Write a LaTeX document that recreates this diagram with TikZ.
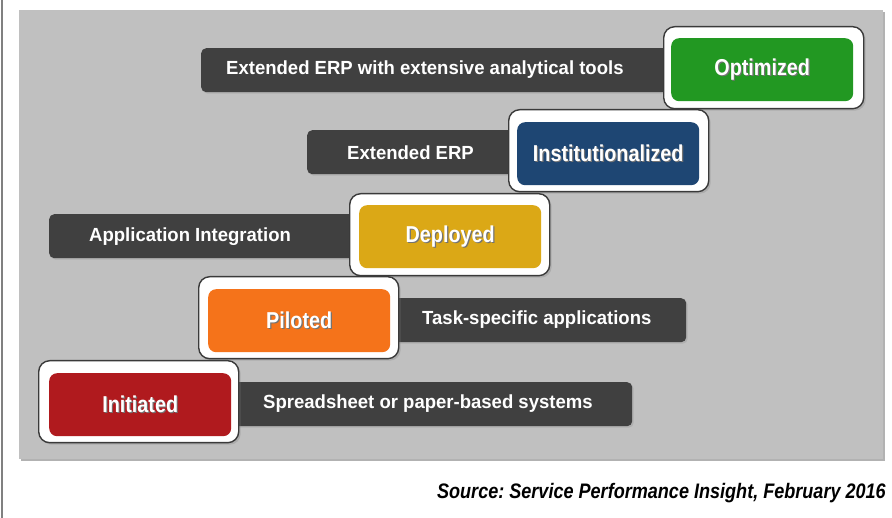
\documentclass[tikz,border=0pt]{standalone}
\usepackage{fontspec}
\setmainfont{Liberation Sans}
\frenchspacing
\newfontfamily\barfont[FakeStretch=0.975]{Liberation Sans}
\newfontfamily\badgefont[FakeStretch=0.86]{Liberation Sans}
\newfontfamily\srcfont[FakeStretch=0.86]{Liberation Sans}
\usetikzlibrary{positioning,shadows}
\definecolor{PanelGray}{RGB}{192,192,192}
\definecolor{BarGray}{RGB}{64,64,64}
\definecolor{RimGray}{RGB}{58,58,58}
\definecolor{StageGreen}{RGB}{34,152,34}
\definecolor{StageBlue}{RGB}{30,70,115}
\definecolor{StageYellow}{RGB}{219,168,22}
\definecolor{StageOrange}{RGB}{245,115,26}
\definecolor{StageRed}{RGB}{176,26,30}
\newcommand{\shadowtext}[1]{\makebox[0pt][l]{\color{black!55}\hspace{1.2pt}\raisebox{-1.2pt}{#1}}#1}
\tikzset{
  bar/.style={fill=BarGray,rounded corners=5pt,inner sep=0pt,anchor=north west,
    minimum height=44,drop shadow={shadow xshift=1.5pt,shadow yshift=-1.5pt,opacity=0.25}},
  bartext/.style={text=white,anchor=west,inner sep=0pt,
    font=\barfont\fontsize{19}{21}\selectfont\bfseries},
  rim/.style={fill=white,draw=RimGray,line width=1.4pt,rounded corners=11pt,inner sep=0pt,
    anchor=north west,minimum width=200,minimum height=82,
    drop shadow={shadow xshift=2pt,shadow yshift=-2pt,opacity=0.3}},
  badge/.style={rounded corners=8pt,inner sep=0pt,anchor=north west,text=white,
    minimum width=182,minimum height=63,
    font=\badgefont\fontsize{23}{25}\selectfont\bfseries}
}

\begin{document}
\begin{tikzpicture}[x=1pt,y=-1pt]
    \useasboundingbox (0,0) rectangle (892,518);
    \draw[gray,line width=2pt] (2,0) -- (2,518);
    \fill[black!30] (21,12) rectangle (885,461);
    \fill[PanelGray] (19,10) rectangle (883,459);

    % descriptions
    \node[bar,minimum width=489] (optBar) at (201,48) {};
    \node[bar,minimum width=223] (instBar) at (307,130) {};
    \node[bar,minimum width=321] (depBar) at (49,214) {};
    \node[bar,minimum width=306] (pilBar) at (380,298) {};
    \node[bar,minimum width=407] (iniBar) at (225,382) {};
    \node[bartext] (optText) at (226,70) {Extended ERP with extensive analytical tools};
    \node[bartext] (instText) at (347,153) {Extended ERP};
    \node[bartext] (depText) at (89,237) {Application Integration};
    \node[bartext] (pilText) at (422,320) {Task-specific applications};
    \node[bartext] (iniText) at (263,404) {Spreadsheet or paper-based systems};

    % stages
    \node[rim] (optRim) at (663,26) {};
    \node[badge,fill=StageGreen] (optBadge) at (671,38) {\shadowtext{Optimized}};
    \node[rim] (instRim) at (508,109) {};
    \node[badge,fill=StageBlue] (instBadge) at (517,122) {\shadowtext{Institutionalized}};
    \node[rim] (depRim) at (349,193) {};
    \node[badge,fill=StageYellow] (depBadge) at (359,205) {\shadowtext{Deployed}};
    \node[rim] (pilRim) at (198,276) {};
    \node[badge,fill=StageOrange] (pilBadge) at (208,289) {\shadowtext{Piloted}};
    \node[rim] (iniRim) at (38,360) {};
    \node[badge,fill=StageRed] (iniBadge) at (49,373) {\shadowtext{Initiated}};

    \node[anchor=east,inner sep=0pt,font=\srcfont\fontsize{21}{24}\selectfont\bfseries\itshape]
      (src) at (886,493) {Source: Service Performance Insight, February 2016};
  \end{tikzpicture}
\end{document}
